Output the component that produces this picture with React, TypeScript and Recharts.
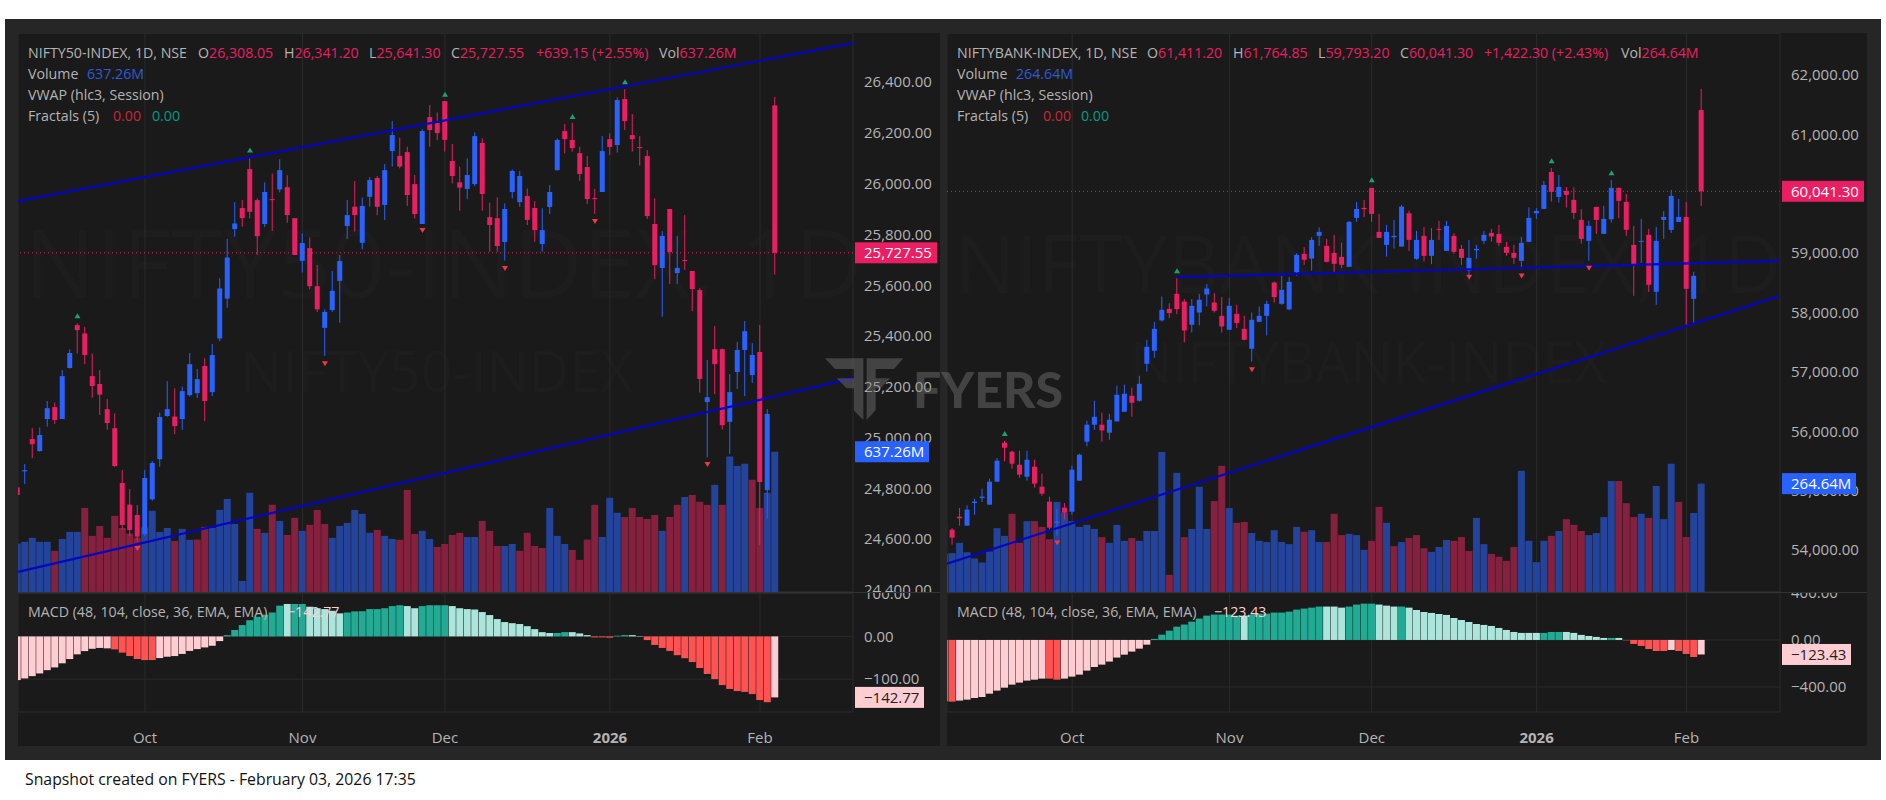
import { Bar, CartesianGrid, Cell, ComposedChart, Line, ReferenceLine, XAxis, YAxis } from "recharts";

const monthTicks = [17, 38, 57, 79, 99];
const monthLabels = ["Oct", "Nov", "Dec", "2026", "Feb"];

// left pane, NIFTY50
const leftOpen = [24804,24867,24994,24947,25073,25120,25073,25274,25443,25410,25242,25211,25112,25037,24821,24736,24695,24620,24757,24915,25085,25083,25073,25167,25175,25282,25179,25390,25547,25821,25904,26057,25935,25841,25939,25977,25986,25864,25696,25746,25596,25432,25502,25617,25833,25909,25767,25948,26022,25916,26128,26109,26124,25998,25841,26262,26238,26325,26089,26005,25979,25998,26160,25868,25864,25770,25967,25927,25951,25904,25762,25908,26053,26207,26172,26120,26065,25943,25967,26175,26152,26333,26191,26144,26109,25841,25668,25900,25648,25699,25656,25581,25140,25348,25348,25062,25258,25345,25246,25337,24793,26308.05];
const leftHigh = [24888,24896,25037,25040,25144,25138,25266,25347,25450,25436,25331,25266,25152,25095,24872,24797,24734,24872,24908,25099,25222,25194,25201,25333,25270,25312,25368,25627,25782,25927,25935,26103,25942,26005,26040,26096,26033,25864,25804,25788,25679,25505,25656,25719,25935,26010,25945,26025,26030,26077,26246,26181,26145,26034,26214,26309,26280,26325,26156,26067,26099,26202,26178,25925,25946,25922,26056,26050,25981,25931,25903,25994,26178,26235,26240,26145,26109,25979,26187,26198,26340,26372,26274,26187,26132,25942,25813,25900,25794,25876,25656,25588,25305,25439,25351,25250,25376,25459,25372,25443,25112,26341.2];
const leftLow = [24754,24817,24919,24944,25043,25053,25073,25272,25331,25289,25157,25089,25031,24884,24636,24612,24590,24612,24751,24885,25082,25014,25030,25161,25156,25065,25163,25380,25511,25791,25830,25863,25719,25830,25814,25965,25846,25719,25650,25583,25495,25321,25495,25452,25782,25811,25741,25909,25876,25857,26067,26060,25912,25863,25841,26145,26172,26126,26001,25893,25939,25990,25893,25732,25732,25697,25942,25909,25837,25771,25732,25880,26051,26119,26126,26010,25920,25880,25967,26113,26122,26211,26126,26071,25861,25624,25476,25605,25605,25660,25498,25177,24922,25171,25032,24935,25191,25163,25215,24577,24682,25641.3];
const leftClose = [24774,24872,24974,25010,25116,25069,25242,25333,25423,25325,25203,25169,25057,24888,24656,24636,24610,24841,24900,25081,25112,25045,25183,25289,25230,25144,25325,25587,25709,25843,25864,25889,25793,25967,25935,26053,25876,25719,25766,25596,25505,25495,25578,25695,25876,25876,25912,26014,25909,26053,26191,26067,25955,25880,26207,26211,26199,26172,26030,25984,26034,26187,25959,25837,25754,25900,26050,26030,25857,25817,25817,25967,26172,26175,26140,26038,25939,25939,26128,26144,26329,26246,26175,26140,25872,25679,25794,25731,25668,25695,25585,25231,25159,25289,25049,25179,25345,25419,25325,24825,25093,25727.55];
const leftVolume = [220,228,246,228,228,187,241,273,273,382,255,300,246,346,291,265,247,293,369,273,291,232,287,237,238,296,291,373,423,309,50,451,287,269,396,323,259,337,278,305,373,309,246,300,314,373,355,269,282,255,241,237,464,264,278,241,205,218,259,269,250,250,323,278,209,209,218,187,269,209,200,382,255,218,191,146,238,396,250,428,360,341,382,341,332,350,278,341,396,432,441,410,396,487,396,616,573,583,510,382,451,637.26];
const leftVolumeDir = ("uuuuu" + "d" + "uuu" + "dddddddd" + "uuuu" + "d" + "uu" + "dd" + "uuuuuu" + "d" + "u" + "d" + "u" + "dd" + "u" + "ddd" + "uuuuuu" + "d" + "uu" + "ddd" + "uu" + "dddd" + "uu" + "ddd" + "uu" + "dddd" + "uuu" + "dddd" + "uuu" + "ddddd" + "u" + "dd" + "u" + "ddd" + "u" + "d" + "uuu" + "dd" + "uu").split("");
const leftMacd = [-102.3,-98.4,-93,-86.7,-79,-72.6,-63,-53,-42,-34.4,-29,-27,-28,-30.4,-38,-46,-53,-55.4,-55.4,-50.8,-47.6,-46,-41,-34,-29.7,-25.8,-21.9,-11,3,15,26.5,38,46,51,56,72,76,76,76,69.5,66,64,60,54,56,58.6,59,64,64,66,71,73,71,66,71,73,73,73,71,66,64,63,57,50,40.6,33.6,31,29,24,17,10,8,8,10,10,7,3,-2.3,-2.3,-3,1.6,3,3,1,-8.6,-20,-27,-34,-44,-51,-60,-74,-88,-100,-114,-123,-128,-130,-135,-149,-154,-142.77];
const leftMacdTone = ("PPPPPPPPPPPPP" + "RRRRRR" + "PPPPPPPPP" + "GGGGGGGG" + "L" + "GG" + "LLLLL" + "GGGGGGGG" + "LL" + "GGGG" + "LLLLLLLLLLLLLL" + "GG" + "LLL" + "RRR" + "GG" + "LL" + "RRRRRRRRRRRRRRRRR" + "P").split("");
const leftFractalUp = [[8,25478],[31,26130],[57,26350],[74,26262],[81,26399]];
const leftFractalDown = [[16,24565],[41,25293],[54,25817],[65,25668],[77,25853],[92,24896]];
const leftTrendUpper = [{ x: 0.07, y: 25931 }, { x: 111.4, y: 26553 }];
const leftTrendLower = [{ x: 0.07, y: 24471 }, { x: 111.4, y: 25234 }];
const leftPriceTicks = [24400,24600,24800,25000,25200,25400,25600,25800,26000,26200,26400];
const leftMacdTicks = [-100, 0, 100];

// right pane, NIFTYBANK
const rightOpen = [54450,54342,54561,54410,54791,54875,54763,55150,55807,55655,55436,55234,55403,55066,54814,54455,54713,54645,55167,55823,56110,56110,55975,56166,56328,56598,56513,57136,57355,57866,58062,58315,58185,57793,58000,58303,58169,57944,57709,57978,57725,57389,57843,57944,58505,58146,58051,58679,58988,58909,59291,59122,59005,58937,58769,59594,59762,60099,59358,59139,59268,59111,59672,58904,59291,58954,59409,59038,59291,59072,58707,59049,59207,59341,59324,59106,59005,58870,59190,59672,59745,60368,59947,60048,59897,59560,59207,59779,59324,59571,60099,59863,59139,59190,59308,58348,59560,59392,59526,59610,58230,61411.2];
const rightHigh = [54550,54370,54707,54752,54864,55032,55201,55549,55840,55672,55672,55672,55520,55285,54898,54696,54791,55420,55621,56177,56513,56311,56295,56766,56783,56732,56934,57540,57843,58270,58158,58578,58225,58225,58315,58477,58326,58258,58242,58130,57944,58000,58101,58197,58522,58618,58595,58999,59100,59268,59437,59240,59308,59178,59543,59863,59897,60099,59661,59476,59560,59812,59717,59375,59437,59420,59543,59543,59336,59139,59223,59139,59375,59409,59476,59190,59139,59274,59773,59756,60216,60435,60317,60115,60110,59740,59543,59784,59796,60233,60104,59998,59459,59577,59409,59442,59711,60065,59913,59863,58685,61764.85];
const rightLow = [54250,54090,54410,54410,54595,54808,54763,55150,55493,55369,55218,55167,55049,54915,54342,54241,54511,54595,55167,55745,56025,55823,55857,56166,56328,56244,56497,57002,57237,57849,57905,57972,57496,57664,57782,58101,58000,57664,57709,57737,57529,57175,57843,57613,58169,58130,58045,58618,58803,58707,59122,58842,58651,58747,58769,59526,59605,59526,59251,58943,59078,59111,59038,58887,58859,58814,59223,59038,58988,58803,58634,58904,59156,59195,59122,58954,58819,58730,59190,59577,59745,59869,59852,59768,59577,59162,58870,59324,59324,59515,59588,59291,58281,58836,58348,58129,59240,59341,59526,57793,57821,59793.2];
const rightClose = [54350,54208,54533,54679,54814,54898,55150,55504,55722,55453,55268,55520,55117,54948,54376,54477,54629,55352,55605,56110,56244,56014,56194,56614,56631,56480,56800,57422,57725,58045,57989,58057,57697,58113,58214,58404,58028,57765,58113,57821,57540,57877,57944,58146,58258,58382,58516,58971,58887,59223,59358,58853,58819,58803,59526,59745,59740,59661,59257,59358,59291,59784,59223,59223,58954,59223,59392,59459,59021,58920,58920,59072,59308,59280,59173,59005,58920,59173,59594,59711,60149,60031,60115,59981,59678,59240,59459,59560,59577,60099,59880,59392,58786,59207,58466,59207,59610,59964,59610,58399,58618,60041.3];
const rightVolume = [92,95,120,97,82,72,99,156,137,191,120,173,173,159,129,220,194,173,159,164,154,134,120,164,125,132,125,149,149,342,42,291,134,154,257,154,222,308,205,169,171,144,125,122,151,122,117,159,147,151,122,122,191,139,142,139,103,125,208,169,112,122,132,139,107,98,110,127,125,134,100,181,117,93,86,76,110,296,125,73,125,137,149,178,164,149,139,144,183,271,271,217,183,191,181,259,178,313,220,134,193,264.64];
const rightVolumeDir = ("uuuuuuuuu" + "dd" + "u" + "ddd" + "uuuuuu" + "d" + "uuu" + "d" + "uuuu" + "d" + "u" + "d" + "uuu" + "dd" + "u" + "dd" + "uuuuuuu" + "d" + "uu" + "ddd" + "uuu" + "dd" + "u" + "d" + "u" + "ddd" + "uuu" + "ddd" + "uu" + "dddd" + "uuuu" + "d" + "u" + "ddd" + "uuuu" + "ddd" + "u" + "d" + "uuu" + "dd" + "uu").split("");
const rightMacd = [-522,-525,-516,-508,-494,-485,-457,-431,-406,-380,-363,-346,-338,-329,-329,-338,-329,-312,-295,-261,-230,-210,-184,-150,-125,-99,-74,-40,9,45,79,113,131,156,182,207,216,216,216,207,207,216,224,224,233,233,241,258,267,275,284,284,284,275,284,301,309,309,301,292,284,284,275,255,238,230,221,213,187,170,153,136,128,119,102,85,68,60,60,60,60,68,68,68,60,43,34,26,17,17,17,-3,-34,-51,-77,-94,-94,-85,-94,-119,-145,-123.43];
const rightMacdTone = ("RR" + "PPPPPPPPPPPP" + "RR" + "PPPPPPPPPPPP" + "GGGGGGGGGGGG" + "L" + "GGGGGGGGGG" + "LLL" + "GGGG" + "LLL" + "G" + "LLLLLLLLLLLLLLLLLL" + "GGG" + "LLLLLL" + "G" + "L" + "RRRRRR" + "P" + "RRR" + "P").split("");
const rightFractalUp = [[8,55952],[31,58696],[57,60228],[81,60547],[89,60345]];
const rightFractalDown = [[15,54124],[41,57046],[70,58601],[77,58623],[86,58752]];
const rightTrendUpper = [{ x: 31, y: 58595 }, { x: 111.49, y: 58870 }];
const rightTrendLower = [{ x: 0.29, y: 53770 }, { x: 111.49, y: 58281 }];
const rightPriceTicks = [54000,55000,56000,57000,58000,59000,60000,61000,62000];
const rightMacdTicks = [-400, 0, 400];

const RED = "#E91E63";
const BLUE = "#2962FF";
const GRID = "#2B2B2B";
const TEXT = "#B4B4B4";
const FONT = "'Open Sans', sans-serif";
const toneColor: Record<string, string> = { G: "#22AB94", L: "#ACE5DC", R: "#FF5252", P: "#FFCDD2" };

const money = (v: number) => v.toLocaleString("en-US", { minimumFractionDigits: 2, maximumFractionDigits: 2 }).replace("-", "\u2212");

function buildRows(o: number[], h: number[], l: number[], c: number[], v: number[], dir: string[], m: number[], tone: string[], up: number[][], down: number[][]) {
  return o.map((open, i) => ({
    i,
    open,
    high: h[i],
    low: l[i],
    close: c[i],
    volume: v[i],
    dir: dir[i],
    macd: m[i],
    tone: tone[i],
    fracUp: up.find((f) => f[0] === i)?.[1] ?? null,
    fracDown: down.find((f) => f[0] === i)?.[1] ?? null,
  }));
}

function Candle(props: any) {
  const { x, y, width, height, payload } = props;
  const { open, high, low, close } = payload;
  const k = height / (high - low);
  const cx = x + width / 2;
  const top = y + (high - Math.max(open, close)) * k;
  const bodyH = Math.max(1, Math.abs(open - close) * k);
  const fill = close >= open ? BLUE : RED;
  return (
    <g>
      <line x1={cx} x2={cx} y1={y} y2={y + height} stroke={fill} strokeWidth={1} />
      <rect x={cx - 2.5} y={top} width={5} height={bodyH} fill={fill} />
    </g>
  );
}

function Fractal(props: any, color: string, pointsUp: boolean) {
  const { cx, cy, value, index } = props;
  if (value == null || cy == null) return <g key={index} />;
  const pts = pointsUp
    ? `${cx},${cy - 3} ${cx - 3},${cy + 2} ${cx + 3},${cy + 2}`
    : `${cx},${cy + 3} ${cx - 3},${cy - 2} ${cx + 3},${cy - 2}`;
  return <polygon key={index} points={pts} fill={color} />;
}

function Badge({ viewBox, text, bg, color, w }: any) {
  const { x, y, width } = viewBox;
  return (
    <g>
      <rect x={x + width + 2} y={y - 10.5} width={w} height={21} fill={bg} />
      <text x={x + width + 11} y={y + 5.5} fill={color} fontSize={15} fontWeight={500} fontFamily={FONT}>{text}</text>
    </g>
  );
}

// transparent chart laid over the axes, so a badge hides the tick label behind it
function BadgeLayer({ top, width, height, rows, domain, value, text, bg, color, w }: any) {
  return (
    <div style={{ position: "absolute", left: 0, top }}>
      <ComposedChart width={width} height={height} data={rows} margin={{ top: 0, right: 87, bottom: 0, left: 0 }}>
        <XAxis dataKey="i" type="number" domain={[0, 111]} hide />
        <YAxis domain={domain} allowDataOverflow hide />
        <ReferenceLine y={value} stroke="none" label={(p: any) => <Badge viewBox={p.viewBox} text={text} bg={bg} color={color} w={w} />} />
      </ComposedChart>
    </div>
  );
}

function AxisMonth({ x, y, payload }: any) {
  const label = monthLabels[monthTicks.indexOf(payload.value)];
  return (
    <text x={x} y={y + 23} textAnchor="middle" fill={TEXT} fontSize={15} fontFamily={FONT} fontWeight={label === "2026" ? 700 : 400}>
      {label}
    </text>
  );
}

type PaneProps = {
  left: number;
  width: number;
  rows: any[];
  xDomain: [number, number];
  priceDomain: [number, number];
  priceTicks: number[];
  volumeMax: number;
  macdDomain: [number, number];
  macdTicks: number[];
  trends: { x: number; y: number }[][];
};

function Pane({ left, width, rows, xDomain, priceDomain, priceTicks, volumeMax, macdDomain, macdTicks, trends }: PaneProps) {
  const last = rows[rows.length - 1];
  const xProps = { dataKey: "i", type: "number" as const, domain: xDomain, ticks: monthTicks, allowDataOverflow: true, interval: 0 as const };
  const tickStyle = { fill: TEXT, fontSize: 15, fontFamily: FONT, textAnchor: "start" };
  return (
    <div style={{ position: "absolute", left, top: 33, width, height: 713 }}>
      <div style={{ position: "absolute", left: 0, top: 0 }}>
        <ComposedChart width={width} height={559} data={rows} margin={{ top: 0, right: 87, bottom: 0, left: 0 }}>
          <CartesianGrid stroke={GRID} strokeWidth={1} />
          <XAxis {...xProps} hide />
          <YAxis domain={[0, volumeMax]} hide ticks={[]} />
          <YAxis yAxisId="grid" domain={priceDomain} ticks={priceTicks} hide />
          <CartesianGrid yAxisId="grid" stroke={GRID} vertical={false} />
          <Bar dataKey="volume" barSize={7} isAnimationActive={false}>
            {rows.map((r) => (
              <Cell key={r.i} fill={r.dir === "u" ? "#24439A" : "#86203F"} />
            ))}
          </Bar>
        </ComposedChart>
      </div>
      <div style={{ position: "absolute", left: 0, top: 0 }}>
        <ComposedChart width={width} height={559} data={rows} margin={{ top: 0, right: 0, bottom: 0, left: 0 }}>
          <XAxis {...xProps} hide />
          <YAxis orientation="right" width={87} domain={priceDomain} ticks={priceTicks} interval={0} tickSize={0} tickMargin={11} axisLine={false} tickLine={false} tickFormatter={money} tick={tickStyle} />
          <Bar dataKey={(r: any) => [r.low, r.high]} barSize={7} shape={Candle} isAnimationActive={false} />
          <Line dataKey="fracUp" stroke="none" connectNulls={false} legendType="none" isAnimationActive={false} dot={(p: any) => Fractal(p, "#1E9E78", true)} activeDot={false} />
          <Line dataKey="fracDown" stroke="none" connectNulls={false} legendType="none" isAnimationActive={false} dot={(p: any) => Fractal(p, "#F23645", false)} activeDot={false} />
          {trends.map((seg, n) => (
            <ReferenceLine key={n} segment={seg} stroke="#0505C4" strokeWidth={2.2} ifOverflow="visible" />
          ))}
          <ReferenceLine y={last.close} stroke={RED} strokeDasharray="1 3" />
        </ComposedChart>
      </div>
      <div style={{ position: "absolute", left: 0, top: 559 }}>
        <ComposedChart width={width} height={154} data={rows} margin={{ top: 0, right: 0, bottom: 0, left: 0 }}>
          <CartesianGrid stroke={GRID} />
          <XAxis {...xProps} height={34} axisLine={false} tickLine={false} tick={AxisMonth} />
          <YAxis orientation="right" width={87} domain={macdDomain} ticks={macdTicks} interval={0} tickSize={0} tickMargin={11} axisLine={false} tickLine={false} tickFormatter={money} tick={tickStyle} />
          <Bar dataKey="macd" barSize={7} isAnimationActive={false}>
            {rows.map((r) => (
              <Cell key={r.i} fill={toneColor[r.tone]} />
            ))}
          </Bar>
        </ComposedChart>
      </div>
      <div style={{ position: "absolute", left: 0, top: 559, width, height: 1, background: "#333" }} />
      <BadgeLayer top={0} width={width} height={559} rows={rows} domain={priceDomain} value={last.close} text={money(last.close)} bg={RED} color="#fff" w={82} />
      <BadgeLayer top={0} width={width} height={559} rows={rows} domain={[0, volumeMax]} value={last.volume} text={`${last.volume.toFixed(2)}M`} bg={BLUE} color="#fff" w={74} />
      <BadgeLayer top={559} width={width} height={120} rows={rows} domain={macdDomain} value={last.macd} text={money(last.macd)} bg="#FFCDD2" color="#222" w={69} />
    </div>
  );
}

function T({ x, y, c, children, w }: any) {
  return (
    <span style={{ position: "absolute", left: x, top: y - 10, height: 20, lineHeight: "20px", color: c ?? TEXT, fontSize: 14.2, fontFamily: FONT, fontWeight: w ?? 400, whiteSpace: "nowrap" }}>
      {children}
    </span>
  );
}

function Mark({ x, y, size, children }: any) {
  return (
    <span style={{ position: "absolute", left: x, top: y, fontSize: size, lineHeight: 1, color: "#1D1D1D", fontFamily: FONT, whiteSpace: "nowrap" }}>
      {children}
    </span>
  );
}

function FyersLogo() {
  const fill = "rgba(125,125,125,0.42)";
  return (
    <svg style={{ position: "absolute", left: 810, top: 345 }} width={110} height={90} viewBox="0 0 330 270">
      <polygon points="45,40 160,40 160,225 132,197 132,72 75,72" fill={fill} />
      <polygon points="80,100 132,100 132,130 110,130" fill={fill} />
      <polygon points="170,40 280,40 252,72 197,72 197,100 240,100 212,130 197,130 197,195 170,225" fill={fill} />
    </svg>
  );
}

export default function App() {
  const leftRows = buildRows(leftOpen, leftHigh, leftLow, leftClose, leftVolume, leftVolumeDir, leftMacd, leftMacdTone, leftFractalUp, leftFractalDown);
  const rightRows = buildRows(rightOpen, rightHigh, rightLow, rightClose, rightVolume, rightVolumeDir, rightMacd, rightMacdTone, rightFractalUp, rightFractalDown);
  return (
    <div style={{ position: "absolute", left: 0, top: 0, width: 1886, height: 800, background: "#fff", overflow: "hidden" }}>
      <div style={{ position: "absolute", left: 5, top: 19, width: 1876, height: 741, background: "#262626" }} />
      <div style={{ position: "absolute", left: 18, top: 33, width: 922, height: 713, background: "#1A1A1A" }} />
      <div style={{ position: "absolute", left: 947, top: 33, width: 920, height: 713, background: "#1A1A1A" }} />

      <Mark x={24} y={214} size={95}>NIFTY50-INDEX, 1D</Mark>
      <Mark x={240} y={342} size={56}>NIFTY50-INDEX</Mark>
      <Mark x={955} y={222} size={80}>NIFTYBANK-INDEX, 1D</Mark>
      <Mark x={1130} y={333} size={56}>NIFTYBANK-INDEX</Mark>

      <Pane left={18} width={922} rows={leftRows} xDomain={[0.07, 111.4]} priceDomain={[24392, 26593]} priceTicks={leftPriceTicks} volumeMax={2540} macdDomain={[-177, 104]} macdTicks={leftMacdTicks} trends={[leftTrendUpper, leftTrendLower]} />
      <Pane left={947} width={920} rows={rightRows} xDomain={[0.29, 111.49]} priceDomain={[53292, 62708]} priceTicks={rightPriceTicks} volumeMax={1365} macdDomain={[-613, 408]} macdTicks={rightMacdTicks} trends={[rightTrendUpper, rightTrendLower]} />

      <T x={28} y={53}>NIFTY50-INDEX, 1D, NSE</T>
      <T x={198} y={53}>O<span style={{ color: RED }}>26,308.05</span></T>
      <T x={284} y={53}>H<span style={{ color: RED }}>26,341.20</span></T>
      <T x={369} y={53}>L<span style={{ color: RED }}>25,641.30</span></T>
      <T x={451} y={53}>C<span style={{ color: RED }}>25,727.55</span></T>
      <T x={536} y={53} c={RED}>+639.15 (+2.55%)</T>
      <T x={659} y={53}>Vol<span style={{ color: RED }}>637.26M</span></T>
      <T x={28} y={74}>Volume</T>
      <T x={87} y={74} c="#2E5BD8">637.26M</T>
      <T x={28} y={95}>VWAP (hlc3, Session)</T>
      <T x={28} y={116}>Fractals (5)</T>
      <T x={113} y={116} c="#C8283C">0.00</T>
      <T x={152} y={116} c="#089981">0.00</T>
      <T x={28} y={612}>MACD (48, 104, close, 36, EMA, EMA)</T>
      <T x={287} y={612} c="#FFCDD2">{"\u2212142.77"}</T>

      <T x={957} y={53}>NIFTYBANK-INDEX, 1D, NSE</T>
      <T x={1147} y={53}>O<span style={{ color: RED }}>61,411.20</span></T>
      <T x={1233} y={53}>H<span style={{ color: RED }}>61,764.85</span></T>
      <T x={1318} y={53}>L<span style={{ color: RED }}>59,793.20</span></T>
      <T x={1400} y={53}>C<span style={{ color: RED }}>60,041.30</span></T>
      <T x={1484} y={53} c={RED}>+1,422.30 (+2.43%)</T>
      <T x={1621} y={53}>Vol<span style={{ color: RED }}>264.64M</span></T>
      <T x={957} y={74}>Volume</T>
      <T x={1016} y={74} c="#2E5BD8">264.64M</T>
      <T x={957} y={95}>VWAP (hlc3, Session)</T>
      <T x={957} y={116}>Fractals (5)</T>
      <T x={1043} y={116} c="#C8283C">0.00</T>
      <T x={1081} y={116} c="#089981">0.00</T>
      <T x={957} y={612}>MACD (48, 104, close, 36, EMA, EMA)</T>
      <T x={1214} y={612} c="#FFCDD2">{"\u2212123.43"}</T>

      <FyersLogo />
      <span style={{ position: "absolute", left: 913, top: 361, fontSize: 50, lineHeight: "56px", color: "rgba(125,125,125,0.42)", fontFamily: "Lato, sans-serif", fontWeight: 900, whiteSpace: "nowrap" }}>FYERS</span>

      <span style={{ position: "absolute", left: 25, top: 769, fontSize: 15.8, lineHeight: "20px", color: "#111", fontFamily: "'Open Sans', sans-serif", whiteSpace: "nowrap" }}>
        Snapshot created on FYERS - February 03, 2026 17:35
      </span>
    </div>
  );
}
